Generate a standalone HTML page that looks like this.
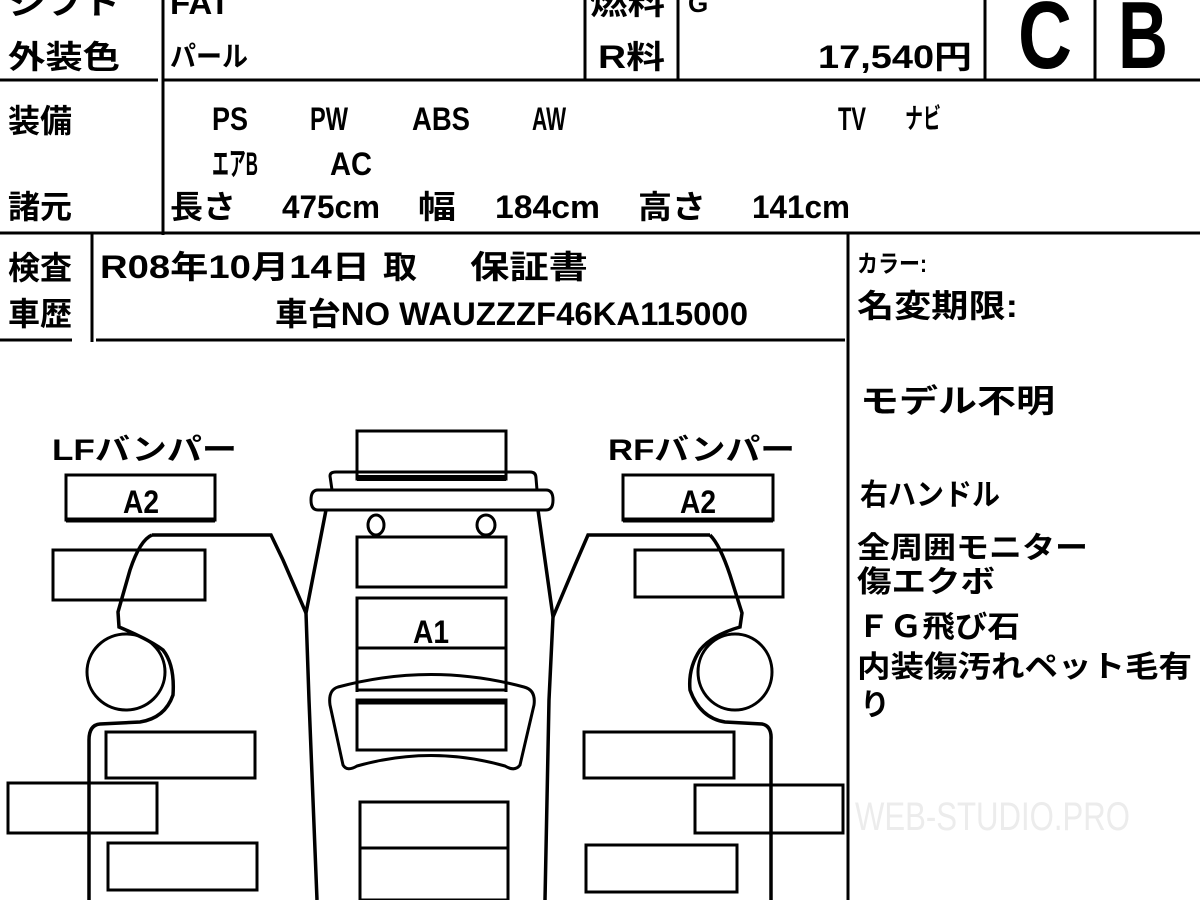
<!DOCTYPE html>
<html><head><meta charset="utf-8"><style>
html,body{margin:0;padding:0;background:#fff;}
svg{display:block;}
text{font-family:"Liberation Sans","Noto Sans CJK JP",sans-serif;fill:#000;font-weight:bold;}
</style></head><body>
<svg width="1200" height="900" viewBox="0 0 1200 900" xmlns="http://www.w3.org/2000/svg">
<g stroke="#000" stroke-width="3" fill="none">
<line x1="0" y1="80" x2="158" y2="80"/>
<line x1="163" y1="80" x2="1200" y2="80"/>
<line x1="163" y1="0" x2="163" y2="235"/>
<line x1="585" y1="0" x2="585" y2="80"/>
<line x1="678" y1="0" x2="678" y2="80"/>
<line x1="985" y1="0" x2="985" y2="80"/>
<line x1="1095" y1="0" x2="1095" y2="80"/>
<line x1="0" y1="233" x2="1200" y2="233"/>
<line x1="92" y1="233" x2="92" y2="342"/>
<line x1="0" y1="340" x2="72" y2="340"/>
<line x1="96" y1="340" x2="845" y2="340"/>
<line x1="848" y1="233" x2="848" y2="900"/>
</g>
<g font-size="32">
<text x="8" y="14" textLength="112" lengthAdjust="spacingAndGlyphs">シフト</text>
<text x="170" y="14" textLength="60" lengthAdjust="spacingAndGlyphs">FAT</text>
<text x="590" y="14" textLength="75" lengthAdjust="spacingAndGlyphs">燃料</text>
<text x="688" y="12" font-size="26">G</text>
<text x="8" y="68" textLength="112" lengthAdjust="spacingAndGlyphs">外装色</text>
<text x="170" y="66" font-size="28" textLength="78" lengthAdjust="spacingAndGlyphs">パール</text>
<text x="598" y="68" textLength="67" lengthAdjust="spacingAndGlyphs">R料</text>
<text x="818" y="68" textLength="154" lengthAdjust="spacingAndGlyphs">17,540円</text>
<text x="1018" y="68" font-size="96" textLength="54" lengthAdjust="spacingAndGlyphs">C</text>
<text x="1118" y="68" font-size="96" textLength="50" lengthAdjust="spacingAndGlyphs">B</text>
<text x="8" y="132" textLength="64" lengthAdjust="spacingAndGlyphs">装備</text>
<text x="212" y="130" textLength="36" lengthAdjust="spacingAndGlyphs">PS</text>
<text x="310" y="130" textLength="38" lengthAdjust="spacingAndGlyphs">PW</text>
<text x="412" y="130" textLength="58" lengthAdjust="spacingAndGlyphs">ABS</text>
<text x="532" y="130" textLength="34" lengthAdjust="spacingAndGlyphs">AW</text>
<text x="838" y="130" textLength="28" lengthAdjust="spacingAndGlyphs">TV</text>
<text x="905" y="128" font-size="28" textLength="36" lengthAdjust="spacingAndGlyphs">ナビ</text>
<text x="212" y="175" textLength="46" lengthAdjust="spacingAndGlyphs">エアB</text>
<text x="330" y="175" textLength="42" lengthAdjust="spacingAndGlyphs">AC</text>
<text x="8" y="218" textLength="64" lengthAdjust="spacingAndGlyphs">諸元</text>
<text x="170" y="218" textLength="66" lengthAdjust="spacingAndGlyphs">長さ</text>
<text x="282" y="218" textLength="98" lengthAdjust="spacingAndGlyphs">475cm</text>
<text x="418" y="218" textLength="38" lengthAdjust="spacingAndGlyphs">幅</text>
<text x="495" y="218" textLength="105" lengthAdjust="spacingAndGlyphs">184cm</text>
<text x="638" y="218" textLength="68" lengthAdjust="spacingAndGlyphs">高さ</text>
<text x="752" y="218" textLength="98" lengthAdjust="spacingAndGlyphs">141cm</text>
<text x="8" y="279" textLength="64" lengthAdjust="spacingAndGlyphs">検査</text>
<text x="8" y="325" textLength="64" lengthAdjust="spacingAndGlyphs">車歴</text>
<text x="100" y="278" textLength="270" lengthAdjust="spacingAndGlyphs">R08年10月14日</text>
<text x="383" y="278" textLength="34" lengthAdjust="spacingAndGlyphs">取</text>
<text x="470" y="278" textLength="118" lengthAdjust="spacingAndGlyphs">保証書</text>
<text x="275" y="325" textLength="473" lengthAdjust="spacingAndGlyphs">車台NO WAUZZZF46KA115000</text>
<text x="857" y="272" font-size="24" textLength="70" lengthAdjust="spacingAndGlyphs">カラー:</text>
<text x="857" y="317" textLength="161" lengthAdjust="spacingAndGlyphs">名変期限:</text>
<text x="860" y="412" textLength="195" lengthAdjust="spacingAndGlyphs">モデル不明</text>
<text x="860" y="505" font-size="30" textLength="140" lengthAdjust="spacingAndGlyphs">右ハンドル</text>
<text x="857" y="558" font-size="30" textLength="231" lengthAdjust="spacingAndGlyphs">全周囲モニター</text>
<text x="857" y="592" font-size="30" textLength="138" lengthAdjust="spacingAndGlyphs">傷エクボ</text>
<text x="857" y="637" font-size="30" textLength="163" lengthAdjust="spacingAndGlyphs">ＦＧ飛び石</text>
<text x="857" y="677" font-size="30" textLength="335" lengthAdjust="spacingAndGlyphs">内装傷汚れペット毛有</text>
<text x="860" y="715" font-size="30">り</text>
<text x="855" y="830" font-size="40" style="fill:#ececec;font-weight:normal" textLength="275" lengthAdjust="spacingAndGlyphs">WEB-STUDIO.PRO</text>
<text x="52" y="460" font-size="30" textLength="185" lengthAdjust="spacingAndGlyphs">LFバンパー</text>
<text x="608" y="460" font-size="30" textLength="187" lengthAdjust="spacingAndGlyphs">RFバンパー</text>
<text x="141" y="513" text-anchor="middle" textLength="36" lengthAdjust="spacingAndGlyphs">A2</text>
<text x="698" y="513" text-anchor="middle" textLength="36" lengthAdjust="spacingAndGlyphs">A2</text>
<text x="431" y="643" text-anchor="middle" textLength="36" lengthAdjust="spacingAndGlyphs">A1</text>
</g>
<g stroke="#000" stroke-width="3" fill="none">
<rect x="66" y="475" width="149" height="45"/>
<line x1="66" y1="520" x2="215" y2="520" stroke-width="5"/>
<rect x="623" y="475" width="150" height="45"/>
<line x1="623" y1="520" x2="773" y2="520" stroke-width="5"/>
<rect x="357" y="431" width="149" height="48"/>
<line x1="357" y1="478" x2="506" y2="478" stroke-width="6"/>
<path d="M332,490 L330,476 Q330,472 336,472 L530,472 Q536,472 536,478 L537,490"/>
<path d="M318,490 L546,490 Q553,490 553,500 Q553,510 546,510 L318,510 Q311,510 311,500 Q311,490 318,490 Z"/>
<ellipse cx="376" cy="525" rx="8" ry="10"/>
<ellipse cx="486" cy="525" rx="9" ry="10"/>
<rect x="357" y="537" width="149" height="50"/>
<rect x="357" y="598" width="149" height="50"/>
<line x1="357" y1="648" x2="357" y2="692"/>
<line x1="506" y1="648" x2="506" y2="692"/>
<line x1="357" y1="690" x2="506" y2="690"/>
<path d="M338,687 Q431,662 524,687 Q536,690 534,705 L520,765 Q515,772 505,766 Q431,745 357,766 Q347,772 343,765 L330,705 Q328,690 338,687 Z"/>
<rect x="357" y="700" width="149" height="50"/>
<line x1="357" y1="702" x2="506" y2="702" stroke-width="5"/>
<rect x="360" y="802" width="148" height="46"/>
<rect x="360" y="848" width="148" height="52"/>
<path d="M326,510 L306,613 L309,700 L317,900" stroke-width="3.5"/>
<path d="M538,510 L553,617 L549,700 L545,900" stroke-width="3.5"/>
<path d="M152,535 L271,535 L283,560 L306,613" stroke-width="3.5"/>
<path d="M152,535 Q140,540 130,570 L118,612 L119,627 Q150,640 163,650 Q175,665 173,695 Q165,718 140,722 L100,724 Q89,725 89,740 L89,900" stroke-width="3.5"/>
<ellipse cx="126" cy="672" rx="39" ry="38"/>
<rect x="53" y="550" width="152" height="50"/>
<rect x="106" y="732" width="149" height="46"/>
<rect x="8" y="783" width="149" height="50"/>
<rect x="108" y="843" width="149" height="47"/>
<path d="M710,535 L588,535 L575,565 L553,617" stroke-width="3.5"/>
<path d="M710,535 Q720,545 730,575 L742,613 L740,627 Q712,635 700,650 Q688,668 690,690 Q700,718 725,722 L762,724 Q772,726 771,740 L771,900" stroke-width="3.5"/>
<ellipse cx="735" cy="672" rx="37" ry="38"/>
<rect x="635" y="550" width="148" height="47"/>
<rect x="584" y="732" width="150" height="46"/>
<rect x="695" y="785" width="148" height="48"/>
<rect x="586" y="845" width="151" height="47"/>
</g>
</svg>
</body></html>
